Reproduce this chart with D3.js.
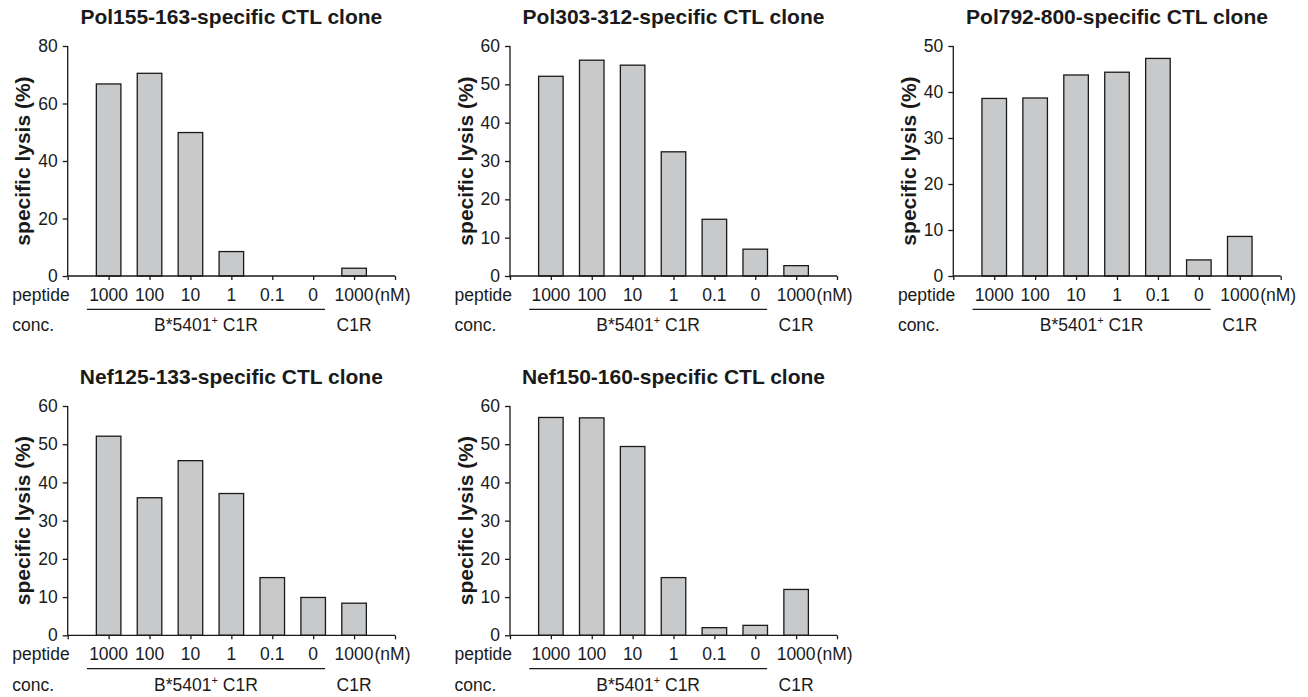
<!DOCTYPE html>
<html>
<head>
<meta charset="utf-8">
<script src="https://cdn.jsdelivr.net/npm/d3@7"></script>
<style>
  html, body { margin: 0; padding: 0; background: #fff; }
  svg { display: block; }
  text { font-family: "Liberation Sans", Arial, sans-serif; fill: #1a1a1a; }
</style>
</head>
<body>
<svg id="chart" width="1308" height="697"></svg>
<script>
// ---- data ----
const categories = ["1000", "100", "10", "1", "0.1", "0", "1000"];
const titles = [
  "Pol155-163-specific CTL clone",
  "Pol303-312-specific CTL clone",
  "Pol792-800-specific CTL clone",
  "Nef125-133-specific CTL clone",
  "Nef150-160-specific CTL clone"
];
const pol155 = [66.8, 70.5, 49.9, 8.5, 0, 0, 2.7];
const pol303 = [52.1, 56.3, 55.0, 32.4, 14.8, 7.0, 2.7];
const pol792 = [38.6, 38.7, 43.7, 44.3, 47.3, 3.5, 8.6];
const nef125 = [52.1, 36.0, 45.7, 37.1, 15.1, 9.9, 8.4];
const nef150 = [57.0, 56.9, 49.4, 15.1, 2.0, 2.6, 12.0];
const yMaxes = [80, 60, 50, 60, 60];
const yTickSteps = [20, 10, 10, 10, 10];
const yLabel = "specific lysis (%)";
const rowLabel1 = "peptide";
const rowLabel2 = "conc.";
const unitLabel = "(nM)";
const groupLabel = "B*5401";
const groupLabelRest = " C1R";
const controlLabel = "C1R";

// ---- layout ----
const series = [pol155, pol303, pol792, nef125, nef150];
const frames = [
  {left: 67.7, right: 395, top: 46, bottom: 276},
  {left: 510, right: 837, top: 46, bottom: 276},
  {left: 953.3, right: 1280.7, top: 46, bottom: 276},
  {left: 67.7, right: 395, top: 406, bottom: 635.3},
  {left: 510, right: 837, top: 406, bottom: 635.3}
];

const svg = d3.select("#chart");
const ink = "#1a1a1a";
const fs = "17.5px";

series.forEach((vals, p) => {
  const f = frames[p];
  const x = d3.scaleLinear().domain([0, categories.length + 1]).range([f.left, f.right]);
  const y = d3.scaleLinear().domain([0, yMaxes[p]]).range([f.bottom, f.top]);
  const slot = x(1) - x(0);
  const bw = slot * 0.6;
  const g = svg.append("g");

  // title
  g.append("text")
    .attr("x", (f.left + f.right) / 2)
    .attr("y", f.top - 22)
    .attr("text-anchor", "middle")
    .style("font-size", "21px").style("font-weight", "bold")
    .text(titles[p]);

  // bars
  g.selectAll("rect.bar").data(vals).enter().append("rect")
    .attr("class", "bar")
    .attr("x", (d, i) => x(i + 1) - bw / 2)
    .attr("y", d => y(d))
    .attr("width", bw)
    .attr("height", d => y(0) - y(d))
    .attr("fill", "#c8c9cb")
    .attr("stroke", ink)
    .attr("stroke-width", 1.3);

  // y axis
  const yTicks = d3.range(0, yMaxes[p] + 0.001, yTickSteps[p]);
  const ya = g.append("g").attr("transform", `translate(${f.left},0)`)
    .call(d3.axisLeft(y).tickValues(yTicks).tickSize(5).tickPadding(5).tickFormat(d3.format("d")));
  ya.select(".domain").attr("stroke", ink).attr("stroke-width", 1.3).attr("d", `M0,${f.top}V${f.bottom}`);
  ya.selectAll(".tick line").attr("stroke", ink).attr("stroke-width", 1.3);
  ya.selectAll(".tick text").style("font-size", fs).attr("fill", ink)
    .style("font-family", '"Liberation Sans", Arial, sans-serif');

  // x axis
  const xa = g.append("g").attr("transform", `translate(0,${f.bottom})`)
    .call(d3.axisBottom(x).tickValues(d3.range(0, categories.length + 2)).tickSize(4).tickFormat(""));
  xa.select(".domain").attr("stroke", ink).attr("stroke-width", 1.3).attr("d", `M${f.left},0H${f.right}`);
  xa.selectAll(".tick line").attr("stroke", ink).attr("stroke-width", 1.3);

  // category labels
  const labY = f.bottom + 24.7;
  categories.forEach((c, i) => {
    const t = g.append("text")
      .attr("x", x(i + 1)).attr("y", labY)
      .attr("text-anchor", "middle")
      .style("font-size", fs)
      .text(c);
    if (i === categories.length - 1) {
      const w = t.node().getComputedTextLength();
      g.append("text")
        .attr("x", x(i + 1) + w / 2 + 1).attr("y", labY)
        .style("font-size", fs)
        .text(unitLabel);
    }
  });

  const pep = g.append("text")
    .attr("x", f.left + 2).attr("y", labY)
    .attr("text-anchor", "end")
    .style("font-size", fs)
    .text(rowLabel1);
  const pw = pep.node().getComputedTextLength();

  // group underline
  const u0 = x(0.47), u1 = x(6.29);
  g.append("line")
    .attr("x1", u0).attr("x2", u1)
    .attr("y1", f.bottom + 33.3).attr("y2", f.bottom + 33.3)
    .attr("stroke", ink).attr("stroke-width", 1.2);

  const row2Y = f.bottom + 55.2;
  g.append("text")
    .attr("x", f.left + 2 - pw).attr("y", row2Y)
    .style("font-size", fs)
    .text(rowLabel2);

  const gt = g.append("text")
    .attr("x", (u0 + u1) / 2).attr("y", row2Y)
    .attr("text-anchor", "middle")
    .style("font-size", fs);
  gt.append("tspan").text(groupLabel);
  gt.append("tspan").attr("dy", -7).style("font-size", "11px").text("+");
  gt.append("tspan").attr("dy", 7).text(groupLabelRest);

  g.append("text")
    .attr("x", x(7)).attr("y", row2Y)
    .attr("text-anchor", "middle")
    .style("font-size", fs)
    .text(controlLabel);

  // y label
  g.append("text")
    .attr("transform", `translate(${f.left - 45},${(f.top + f.bottom) / 2}) rotate(-90)`)
    .attr("text-anchor", "middle")
    .attr("dominant-baseline", "central")
    .style("font-size", "21px").style("font-weight", "bold")
    .text(yLabel);
});
</script>
</body>
</html>
